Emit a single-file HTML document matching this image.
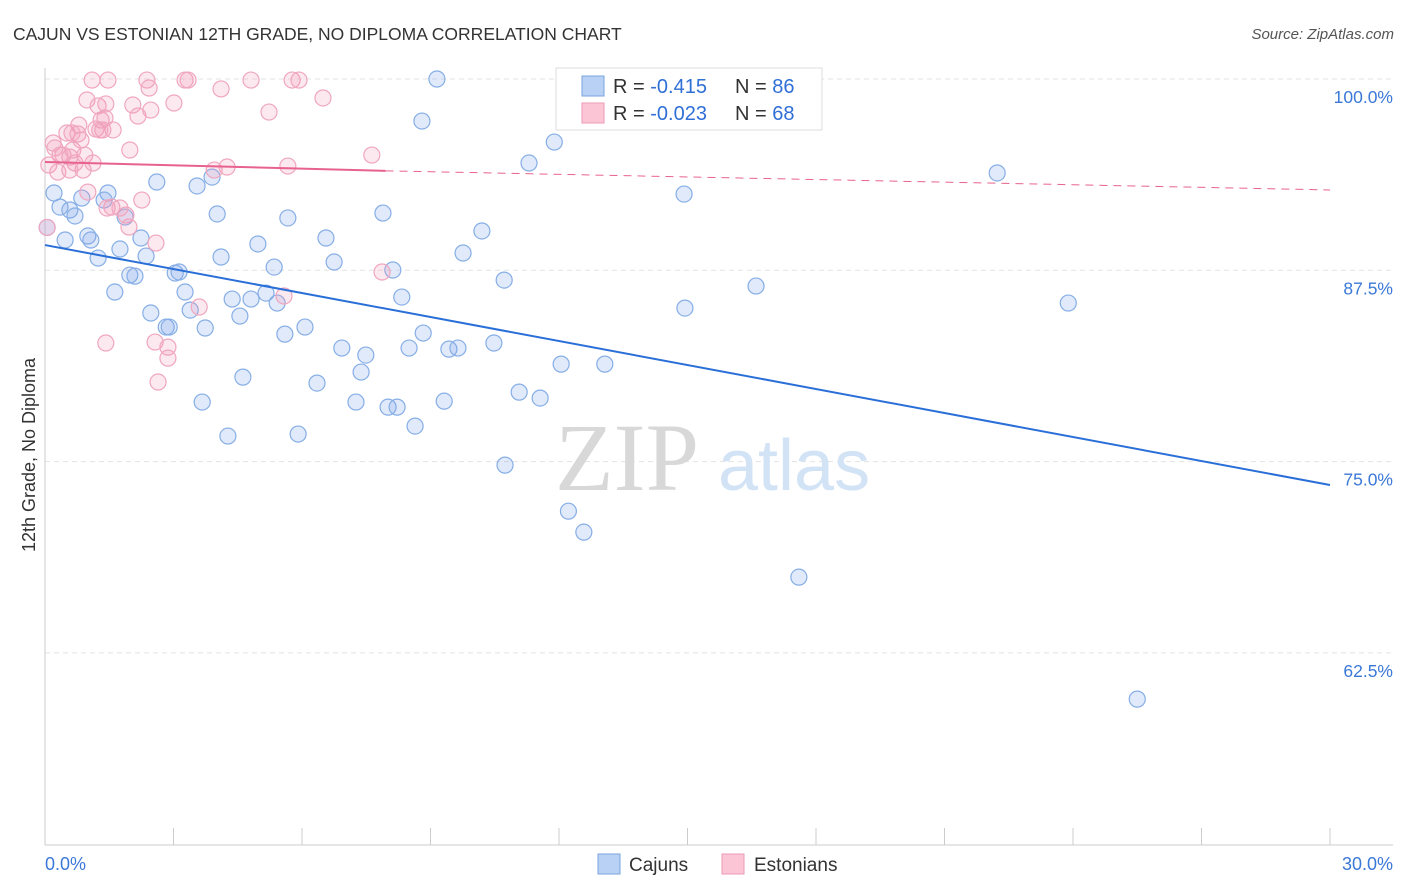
<!DOCTYPE html>
<html><head><meta charset="utf-8"><style>
body{margin:0;background:#fff;font-family:"Liberation Sans",sans-serif;}
svg{display:block}
</style></head><body>
<svg id="c" width="1406" height="892" xmlns="http://www.w3.org/2000/svg">
<text x="13" y="40" font-size="17.5" fill="#333">CAJUN VS ESTONIAN 12TH GRADE, NO DIPLOMA CORRELATION CHART</text>
<text x="1394" y="39" font-size="15" fill="#555" font-style="italic" text-anchor="end">Source: ZipAtlas.com</text>
<text x="35" y="455" font-size="18" fill="#333" text-anchor="middle" transform="rotate(-90 35 455)">12th Grade, No Diploma</text>
<g id="grid"></g>
<g><text x="555" y="490" font-size="96" font-family="Liberation Serif,serif" fill="#d8d8d8">ZIP</text><text x="718" y="490" font-size="72" fill="#d3e3f6">atlas</text></g>
<g id="marks"></g>
<g>
<rect x="556" y="68" width="266" height="62" fill="#fff" stroke="#ddd"/>
<rect x="582" y="76" width="22" height="20" fill="#b9d1f5" stroke="#7aa3e0"/>
<rect x="582" y="103" width="22" height="20" fill="#fbc5d5" stroke="#ee9ab5"/>
<text x="613" y="93" font-size="20" fill="#333">R = <tspan fill="#2f6fd6"> -0.415</tspan><tspan x="735">N = </tspan><tspan fill="#2f6fd6">86</tspan></text>
<text x="613" y="120" font-size="20" fill="#333">R = <tspan fill="#2f6fd6">-0.023</tspan><tspan x="735">N = </tspan><tspan fill="#2f6fd6">68</tspan></text>
</g>
<g>
<rect x="598" y="854" width="22" height="20" fill="#b9d1f5" stroke="#7aa3e0"/>
<text x="629" y="871" font-size="19" fill="#333">Cajuns</text>
<rect x="722" y="854" width="22" height="20" fill="#fbc5d5" stroke="#ee9ab5"/>
<text x="754" y="871" font-size="19" fill="#333">Estonians</text>
</g>
</svg>
<script>
const blueX=[0.21,0.35,0.58,0.70,0.47,1.00,1.07,1.24,1.47,1.38,0.86,1.75,1.63,1.87,1.98,2.10,2.24,2.36,2.47,2.61,2.83,2.90,3.04,3.13,3.27,3.39,3.55,3.67,3.74,3.90,4.02,4.11,4.27,4.37,4.55,4.62,4.81,4.97,5.16,5.35,5.42,5.60,5.67,5.91,6.07,6.35,6.56,6.75,6.93,7.26,7.38,7.49,7.89,8.01,8.12,8.22,8.33,8.50,8.64,8.83,8.80,9.15,9.32,9.43,9.64,9.76,10.20,10.48,10.72,10.74,11.07,11.30,11.56,11.89,12.05,12.22,12.58,13.07,14.92,14.94,16.60,17.60,22.23,23.89,25.50,0.05];
const blueY=[92.55,91.63,91.44,91.05,89.48,89.74,89.48,88.30,92.55,92.09,92.22,88.89,86.08,90.98,87.19,87.12,89.61,88.43,84.71,93.27,83.79,83.79,87.32,87.39,86.08,84.90,93.01,78.89,83.73,93.59,91.18,88.37,76.67,85.62,84.51,80.52,85.62,89.22,86.01,87.71,85.36,83.33,90.92,76.80,83.79,80.13,89.61,88.04,82.42,78.89,80.85,81.96,91.24,78.56,87.52,78.56,85.75,82.42,77.32,83.40,97.25,100,78.95,82.35,82.42,88.63,90.07,82.75,86.86,74.77,79.54,94.51,79.15,95.88,81.37,71.76,70.39,81.37,92.48,85.03,86.47,67.45,93.86,85.36,59.48,90.3];
const pinkX=[0.19,0.09,0.23,0.30,0.42,0.51,0.58,0.65,0.70,0.77,0.79,0.84,0.89,0.93,0.98,1.10,1.12,1.19,1.24,1.31,1.35,1.40,1.47,1.59,1.56,1.89,1.96,1.98,2.05,2.17,2.26,2.38,2.43,2.47,2.57,2.59,2.64,2.87,2.87,3.01,3.27,3.34,3.60,3.95,4.11,4.25,4.81,5.23,5.58,5.67,5.77,5.93,6.49,7.63,7.87,1.42,0.35,1.45,1.42,1.28,0.58,1.00,0.63,1.75,0.05];
const pinkY=[95.82,94.38,95.49,93.92,95.03,96.47,94.90,95.36,94.51,96.41,96.99,96.01,94.05,95.03,98.63,99.93,94.51,96.73,98.24,97.32,96.67,97.45,99.93,96.67,91.63,91.11,90.33,95.36,98.30,97.58,92.09,99.93,99.41,97.97,82.81,89.28,80.20,82.48,81.76,98.43,99.93,99.93,85.10,94.05,99.35,94.25,99.93,97.84,85.82,94.31,99.93,99.93,98.76,95.03,87.39,82.75,95.03,91.57,98.37,96.67,94.05,92.61,96.47,91.57,90.3];
const blueTrend=[89.15,73.47];
const pinkTrend=[94.58,94.0,92.75];
const yTicks=[100,87.5,75,62.5];
const yTickLabels=["100.0%","87.5%","75.0%","62.5%"];
const xTicks=[0,3,6,9,12,15,18,21,24,27,30];

const NS="http://www.w3.org/2000/svg";
const X=v=>45+v/30*1285;
const Y=v=>79+(100-v)/12.5*191.3;
function mk(tag,attrs,parent){const e=document.createElementNS(NS,tag);for(const k in attrs)e.setAttribute(k,attrs[k]);parent.appendChild(e);return e;}
const grid=document.getElementById('grid'),marks=document.getElementById('marks');
yTicks.forEach((t,i)=>{
  const l=mk('line',{x1:45,x2:1393,y1:Y(t),y2:Y(t),stroke:'#e3e3e3','stroke-dasharray':'5,4'},grid);
  
  
  const tx=mk('text',{x:1393,y:Y(t)+24,'font-size':17.5,fill:'#3b78d8','text-anchor':'end'},grid);
  tx.textContent=yTickLabels[i];
  
  
});
const ax=mk('line',{x1:45,x2:45,y1:68,y2:845,stroke:'#ccc'},grid);


const bx=mk('line',{x1:45,x2:1393,y1:845,y2:845,stroke:'#ccc'},grid);


xTicks.forEach(t=>{
  const l=mk('line',{x1:X(t),x2:X(t),y1:828,y2:845,stroke:'#ccc'},grid);
  
  
});
const xl=mk('text',{x:45,y:870,'font-size':18,fill:'#3b78d8'},grid);xl.textContent=xTicks[0].toFixed(1)+'%';


const xr=mk('text',{x:1393,y:870,'font-size':18,fill:'#3b78d8','text-anchor':'end'},grid);xr.textContent=xTicks[xTicks.length-1].toFixed(1)+'%';



blueX.forEach((v,i)=>{
  const c=mk('circle',{cx:X(v),cy:Y(blueY[i]),r:8,fill:'rgba(120,160,230,0.22)',stroke:'#86aee6','stroke-width':1.2},marks);
  
  
});
pinkX.forEach((v,i)=>{
  const c=mk('circle',{cx:X(v),cy:Y(pinkY[i]),r:8,fill:'rgba(240,150,180,0.22)',stroke:'#f0a6bf','stroke-width':1.2},marks);
  
  
});
const bt=mk('line',{x1:X(0),y1:Y(blueTrend[0]),x2:X(30),y2:Y(blueTrend[1]),stroke:'#2a6fd8','stroke-width':2},marks);


const pt=mk('line',{x1:X(0),y1:Y(pinkTrend[0]),x2:X(7.95),y2:Y(pinkTrend[1]),stroke:'#e8628f','stroke-width':2},marks);


const pd=mk('line',{x1:X(7.95),y1:Y(pinkTrend[1]),x2:X(30),y2:Y(pinkTrend[2]),stroke:'#e8628f','stroke-width':1,'stroke-dasharray':'8,6'},marks);


</script>
</body></html>
